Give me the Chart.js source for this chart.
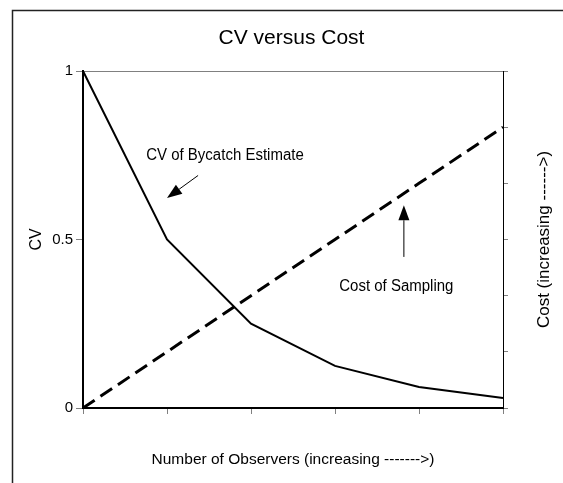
<!DOCTYPE html>
<html><head><meta charset="utf-8">
<script src="https://cdn.jsdelivr.net/npm/chart.js@4"></script>
<style>html,body{margin:0;padding:0;background:#fff}#wrap{width:563px;height:483px;position:relative}</style>
</head><body><div id="wrap"><canvas id="c" width="563" height="483"></canvas></div>
<script>
// ---- data ----
const observers = ['0', '1', '2', '3', '4', '5'];
const cvValues = [1, 0.5, 0.25, 0.125, 0.0625, 0.03];
const costValues = [0, 1, 2, 3, 4, 5];
const cvTickLabels = ['0', '0.5', '1'];
const cvTickStep = 0.5;
const costTickStep = 1;

const chartTitle = 'CV versus Cost';
const xTitle = 'Number of Observers (increasing ------->)';
const cvTitle = 'CV';
const costTitle = 'Cost (increasing ------>)';

// annotation anchors in data units (x = observer index)
const notes = [
  { text: 'CV of Bycatch Estimate', axis: 'y', tx: 1.69, ty: 0.75, from: [1.37, 0.69], to: [1.0, 0.623] },
  { text: 'Cost of Sampling', axis: 'y1', tx: 3.73, ty: 2.17, from: [3.82, 2.69], to: [3.82, 3.61] }
];

const FONT = "'Liberation Sans', Arial, Helvetica, sans-serif";

function arrow(ctx, x0, y0, x1, y1, len, w) {
  const a = Math.atan2(y1 - y0, x1 - x0);
  const bx = x1 - len * Math.cos(a), by = y1 - len * Math.sin(a);
  ctx.beginPath(); ctx.moveTo(x0, y0); ctx.lineTo(bx, by); ctx.stroke();
  ctx.beginPath();
  ctx.moveTo(x1, y1);
  ctx.lineTo(bx + (w / 2) * Math.sin(a), by - (w / 2) * Math.cos(a));
  ctx.lineTo(bx - (w / 2) * Math.sin(a), by + (w / 2) * Math.cos(a));
  ctx.closePath(); ctx.fill();
}

const decor = {
  id: 'decor',
  beforeDraw(chart) {
    const ctx = chart.ctx;
    ctx.save(); ctx.fillStyle = '#fff'; ctx.fillRect(0, 0, chart.width, chart.height); ctx.restore();
  },
  afterDraw(chart) {
    const { ctx, chartArea, scales } = chart;
    ctx.save();
    // outer frame (top and left edges)
    ctx.strokeStyle = '#222'; ctx.lineWidth = 1.5;
    ctx.beginPath(); ctx.moveTo(12.5, chart.height); ctx.lineTo(12.5, 10.5); ctx.lineTo(chart.width, 10.5); ctx.stroke();
    // right axis title, reading bottom to top
    ctx.save();
    ctx.translate(544, (chartArea.top + chartArea.bottom) / 2);
    ctx.rotate(-Math.PI / 2);
    ctx.fillStyle = '#000'; ctx.font = '17px ' + FONT;
    ctx.textAlign = 'center'; ctx.textBaseline = 'middle';
    ctx.fillText(costTitle, 0, 0);
    ctx.restore();
    // annotations
    ctx.fillStyle = '#000'; ctx.strokeStyle = '#000'; ctx.lineWidth = 1;
    notes.forEach(n => {
      const ys = scales[n.axis], xs = scales.x;
      const px = xs.getPixelForValue(n.tx), py = ys.getPixelForValue(n.ty);
      ctx.save();
      ctx.translate(px, py); ctx.scale(1, 1.15);
      ctx.font = '15px ' + FONT; ctx.textAlign = 'center'; ctx.textBaseline = 'middle';
      ctx.fillText(n.text, 0, 0);
      ctx.restore();
      arrow(ctx, xs.getPixelForValue(n.from[0]), ys.getPixelForValue(n.from[1]),
        xs.getPixelForValue(n.to[0]), ys.getPixelForValue(n.to[1]), 15, 11);
    });
    ctx.restore();
  }
};

new Chart(document.getElementById('c'), {
  type: 'line',
  data: {
    labels: observers,
    datasets: [
      { label: 'CV of Bycatch Estimate', data: cvValues, yAxisID: 'y', borderColor: '#000', borderWidth: 2,
        pointRadius: 0, fill: false, tension: 0 },
      { label: 'Cost of Sampling', data: costValues, yAxisID: 'y1', borderColor: '#000', borderWidth: 3,
        borderDash: [14, 7], pointRadius: 0, fill: false, tension: 0 }
    ]
  },
  options: {
    responsive: false,
    animation: false,
    devicePixelRatio: 1,
    layout: { padding: { left: 20, right: 0, top: 0, bottom: 0 } },
    plugins: {
      legend: { display: false },
      tooltip: { enabled: false },
      title: { display: true, text: chartTitle, color: '#000',
        font: { family: FONT, size: 21, weight: 'normal', lineHeight: 1.2 },
        padding: { top: 25.4, bottom: 20.4 } }
    },
    scales: {
      x: {
        type: 'category', offset: false,
        grid: { drawOnChartArea: false, color: '#808080', tickColor: '#808080', tickLength: 6 },
        border: { color: '#000', width: 2 },
        ticks: { display: false },
        title: { display: true, text: xTitle, color: '#000', font: { family: FONT, size: 15.5, lineHeight: 1.2 },
          padding: { top: 0, bottom: 14 } },
        afterFit(s) { s.height = 75; }
      },
      y: {
        position: 'left', min: 0, max: 1,
        ticks: { stepSize: cvTickStep, color: '#000', padding: 3, font: { family: FONT, size: 15 },
          callback: (v, i) => cvTickLabels[i] },
        grid: { color: c => (c.tick && c.tick.value === 1) ? '#808080' : 'rgba(0,0,0,0)', tickColor: '#808080', tickLength: 7, lineWidth: 1 },
        border: { color: '#000', width: 2 },
        title: { display: true, text: cvTitle, color: '#000', font: { family: FONT, size: 16, lineHeight: 1.2 },
          padding: { top: 7.4, bottom: 0 } },
        afterFit(s) { s.width = 63; }
      },
      y1: {
        position: 'right', min: 0, max: 6,
        ticks: { display: false, stepSize: costTickStep },
        grid: { drawOnChartArea: false, color: '#808080', tickColor: '#808080', tickLength: 5 },
        border: { color: '#000', width: 1 },
        afterFit(s) { s.width = 60; }
      }
    }
  },
  plugins: [decor]
});
</script>
</body></html>
